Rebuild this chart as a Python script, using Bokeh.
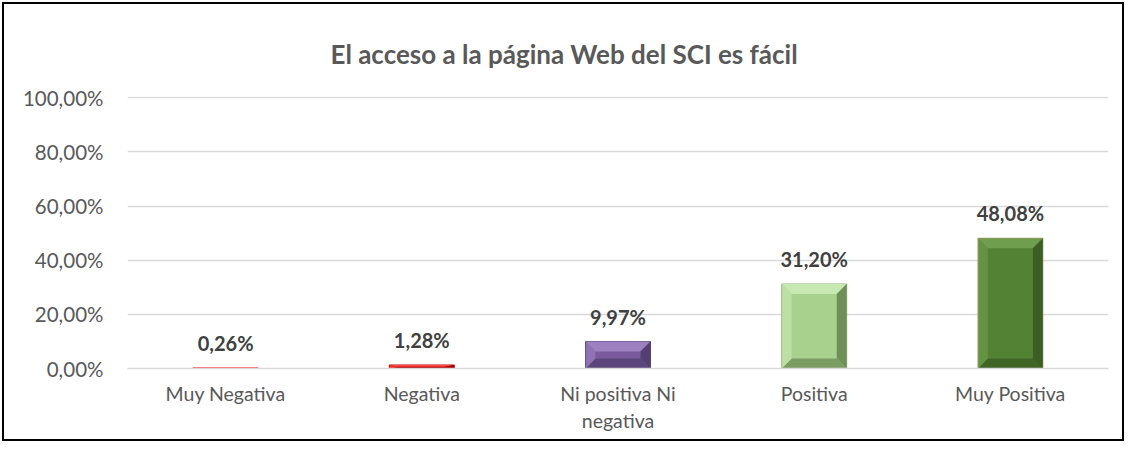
from bokeh.plotting import figure
from bokeh.models import Range1d, FixedTicker, ColumnDataSource
from bokeh.core.properties import value
from bokeh.embed import file_html
from bokeh.resources import INLINE

categories = ["Muy Negativa", "Negativa", "Ni positiva Ni\nnegativa", "Positiva", "Muy Positiva"]
values = [0.26, 1.28, 9.97, 31.20, 48.08]
labels = ["0,26%", "1,28%", "9,97%", "31,20%", "48,08%"]
y_ticks = [0, 20, 40, 60, 80, 100]
y_tick_labels = ["0,00%", "20,00%", "40,00%", "60,00%", "80,00%", "100,00%"]
title_text = "El acceso a la página Web del SCI es fácil"

main_colors = ["#f6d4d4", "#e00000", "#7a5c9e", "#a9d18e", "#548235"]
light_colors = ["#f8dede", "#ff4d4d", "#9c80c0", "#c8e8b2", "#6f9f4e"]
dark_colors = ["#e8b0b0", "#a00000", "#544070", "#6f8f58", "#3b5e24"]
edge_colors = ["#ff3030", "#c00000", "#5a4678", "#8fb077", "#b39b75"]

FONT = "Lato"
TXT = "#595959"

W, H = 1122, 439
BL, BR, BT, BB = 123, 18, 92, 75
Y_MAX = 100.5

p = figure(width=W, height=H, output_backend="svg", toolbar_location=None,
           x_range=Range1d(0, 5), y_range=Range1d(0, Y_MAX),
           min_border_left=BL, min_border_right=BR, min_border_bottom=BB,
           min_border_top=BT)
p.styles = {"border": "2px solid black", "margin": "2px"}
p.outline_line_color = None
p.background_fill_color = "white"

p.title.text = title_text
p.title.align = "left"
p.title.offset = 203
p.title.vertical_align = "top"
p.title.text_font = FONT
p.title.text_font_size = "26px"
p.title.text_font_style = "bold"
p.title.text_color = TXT
p.title.standoff = 50

frame_h = H - BT - BB
xs = [i + 0.5 for i in range(len(categories))]
bw = 0.33
src = ColumnDataSource(dict(x=xs, top=values, color=main_colors, edge=edge_colors, lab=labels))
p.vbar(x="x", top="top", bottom=0, width=bw, fill_color="color", line_color="edge",
       line_width=1.2, source=src)

# bevel facets derived from the data values
bx = 0.05
px_per_unit = frame_h / Y_MAX
for x, h, lc, dc in zip(xs, values, light_colors, dark_colors):
    if h < 1:
        continue
    x0, x1 = x - bw / 2, x + bw / 2
    by = min(10 / px_per_unit, h / 2)
    p.patch([x0, x1, x1 - bx, x0 + bx], [h, h, h - by, h - by], fill_color=lc, line_color=None)
    p.patch([x0, x1, x1 - bx, x0 + bx], [0, 0, by, by], fill_color=dc, line_color=None, fill_alpha=0.8)
    p.patch([x1, x1, x1 - bx, x1 - bx], [0, h, h - by, by], fill_color=dc, line_color=None)
    p.patch([x0, x0, x0 + bx, x0 + bx], [0, h, h - by, by], fill_color=lc, line_color=None, fill_alpha=0.6)

p.text(x="x", y="top", text="lab", source=src, text_align="center", text_baseline="middle",
       y_offset=-25, text_font=value(FONT), text_font_size="20px", text_font_style="bold",
       text_color="#404040")

p.xaxis.ticker = FixedTicker(ticks=xs)
p.xaxis.major_label_overrides = {x: c for x, c in zip(xs, categories)}
p.xaxis.axis_line_color = "#d9d9d9"
p.xaxis.axis_line_width = 1.5
p.xaxis.major_tick_line_color = None
p.xaxis.minor_tick_line_color = None
p.xaxis.major_label_text_font = FONT
p.xaxis.major_label_text_font_size = "19.5px"
p.xaxis.major_label_text_color = TXT
p.xaxis.major_label_standoff = 7

p.yaxis.ticker = FixedTicker(ticks=y_ticks)
p.yaxis.major_label_overrides = {t: l for t, l in zip(y_ticks, y_tick_labels)}
p.yaxis.axis_line_color = None
p.yaxis.major_tick_line_color = None
p.yaxis.minor_tick_line_color = None
p.yaxis.major_label_text_font = FONT
p.yaxis.major_label_text_font_size = "20.5px"
p.yaxis.major_label_text_color = TXT
p.yaxis.major_label_standoff = 18

p.xgrid.grid_line_color = None
p.ygrid.grid_line_color = "#d9d9d9"
p.ygrid.grid_line_width = 1.5

open("out.html", "w").write(file_html(p, INLINE))
